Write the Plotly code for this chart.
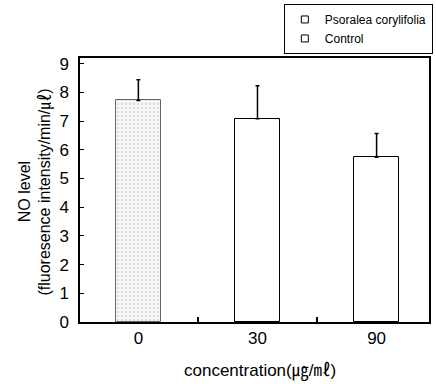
import plotly.graph_objects as go

categories = ["0", "30", "90"]
means = [7.72, 7.08, 5.74]
errors = [0.72, 1.15, 0.83]
control_idx = [0]
treat_idx = [1, 2]
legend_names = ["Psoralea corylifolia", "Control"]

FONT = "Liberation Sans, Arial, Noto Sans CJK KR, sans-serif"

fig = go.Figure()

# Control bar (stippled)
fig.add_trace(go.Bar(
    x=control_idx, y=[means[i] for i in control_idx],
    width=0.38,
    marker=dict(color="#f7f7f7", line=dict(color="#666666", width=1),
                pattern=dict(shape=".", fgcolor="#a8a8a8", bgcolor="#f8f8f8",
                             size=4, solidity=0.2)),
    error_y=dict(type="data", symmetric=False,
                 array=[errors[i] for i in control_idx],
                 arrayminus=[0 for _ in control_idx],
                 color="black", thickness=1.5, width=2),
    showlegend=False,
))
# Psoralea bars (white)
fig.add_trace(go.Bar(
    x=treat_idx, y=[means[i] for i in treat_idx],
    width=0.38,
    marker=dict(color="white", line=dict(color="black", width=1)),
    error_y=dict(type="data", symmetric=False,
                 array=[errors[i] for i in treat_idx],
                 arrayminus=[0 for _ in treat_idx],
                 color="black", thickness=1.5, width=2),
    showlegend=False,
))
# legend entries
for name in legend_names:
    fig.add_trace(go.Scatter(
        x=[None], y=[None], mode="markers", name=name,
        marker=dict(symbol="square-open", size=7, color="black",
                    line=dict(width=1, color="black")),
    ))

fig.update_layout(
    width=436, height=384,
    margin=dict(l=80, r=3, t=58, b=62),
    paper_bgcolor="white", plot_bgcolor="white",
    font=dict(family=FONT, size=17, color="black"),
    bargap=0,
    legend=dict(x=0.584, y=1.11, xanchor="left", yanchor="middle",
                bordercolor="black", borderwidth=1, bgcolor="white",
                font=dict(size=12), itemwidth=30, tracegroupgap=0),
    xaxis=dict(
        range=[-0.49, 2.44],
        tickmode="array", tickvals=[0, 1, 2], ticktext=categories,
        ticks="", showgrid=False, zeroline=False,
        showline=True, linecolor="black", linewidth=1.5, mirror=True,
        minor=dict(tickmode="array", tickvals=[0.5, 1.5], ticks="inside",
                   ticklen=5, tickcolor="black", tickwidth=1.5, showgrid=False),
        tickfont=dict(size=17),
    ),
    yaxis=dict(
        range=[0, 9.2],
        tickmode="array", tickvals=list(range(10)),
        ticks="inside", ticklen=4, tickcolor="black",
        showgrid=False, zeroline=False,
        showline=True, linecolor="black", linewidth=1.5, mirror=True,
        tickfont=dict(size=17), ticklabelstandoff=6,
    ),
    annotations=[
        dict(text="NO level", xref="paper", yref="paper",
             x=-0.16, y=0.492, textangle=-90, showarrow=False,
             font=dict(size=16), xanchor="center", yanchor="middle"),
        dict(text="(fluoresence intensity/min/㎕)", xref="paper", yref="paper",
             x=-0.099, y=0.492, textangle=-90, showarrow=False,
             font=dict(size=16), xanchor="center", yanchor="middle"),
        dict(text="concentration(㎍/㎖)", xref="paper", yref="paper",
             x=0.515, y=-0.186, showarrow=False,
             font=dict(size=17), xanchor="center", yanchor="middle"),
    ],
)

fig.write_html("out.html")
